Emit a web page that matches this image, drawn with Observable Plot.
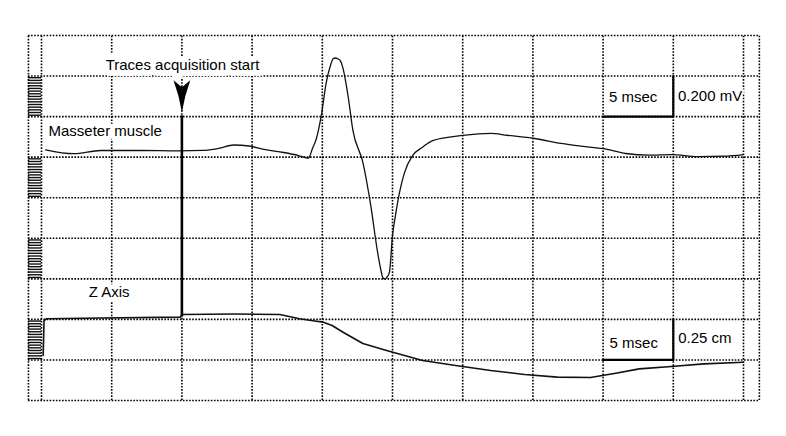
<!DOCTYPE html>
<html><head><meta charset="utf-8">
<script src="https://cdn.jsdelivr.net/npm/d3@7"></script>
<script src="https://cdn.jsdelivr.net/npm/@observablehq/plot@0.6"></script>
<style>html,body{margin:0;padding:0;background:#fff;} #chart svg{display:block;}</style>
</head><body><div id="chart"></div>
<script>
// ---- grid (5 msec per horizontal division, 9 vertical divisions) ----
const gridMs = [0, 5, 10, 15, 20, 25, 30, 35, 40, 45, 50];
const divisions = [0, 1, 2, 3, 4, 5, 6, 7, 8, 9];
const frameMs = [-0.93, 51.13];          // outer frame columns
const hatchBlocks = [1, 3, 5, 7];          // striped cells in left column

// ---- Masseter muscle EMG (time msec, amplitude mV relative to baseline) ----
const masseterMs = [0.29, 2.29, 4.21, 4.93, 7.13, 9.71, 11.52, 12.61, 13.70, 14.78, 15.85, 17.25, 18.31, 19.01, 19.30, 19.58, 19.93, 20.28, 20.56, 20.77, 20.92, 21.13, 21.27, 21.48, 21.83, 22.18, 22.89, 23.45, 23.94, 24.15, 24.30, 24.44, 24.65, 24.79, 25.00, 25.21, 25.50, 25.86, 26.43, 27.14, 27.86, 30.00, 31.99, 33.16, 35.14, 37.01, 38.61, 40.21, 41.60, 43.26, 44.86, 46.76, 48.59, 50.00];
const masseterMv = [0.036, 0.017, 0.033, 0.033, 0.033, 0.031, 0.033, 0.043, 0.060, 0.055, 0.038, 0.023, 0.008, -0.005, 0.043, 0.092, 0.206, 0.368, 0.447, 0.485, 0.489, 0.484, 0.477, 0.437, 0.304, 0.132, -0.026, -0.238, -0.470, -0.549, -0.592, -0.601, -0.588, -0.564, -0.386, -0.288, -0.174, -0.075, 0.008, 0.049, 0.082, 0.107, 0.117, 0.108, 0.092, 0.068, 0.053, 0.040, 0.018, 0.010, 0.013, 0.003, 0.005, 0.013];

// ---- Z axis displacement (time msec, cm relative to rest) ----
const zAxisMs = [0.12, 0.18, 0.36, 4.21, 9.90, 10.00, 13.70, 16.97, 18.38, 19.58, 20.07, 20.70, 21.48, 22.89, 24.58, 27.14, 29.50, 31.99, 34.41, 36.74, 39.10, 40.90, 42.57, 44.86, 47.18, 50.00];
const zAxisCm = [-0.223, -0.007, 0.004, 0.009, 0.014, 0.030, 0.033, 0.030, 0.004, -0.011, -0.017, -0.038, -0.079, -0.149, -0.192, -0.253, -0.284, -0.315, -0.340, -0.356, -0.358, -0.332, -0.305, -0.290, -0.274, -0.264];

// ---- trigger ----
const triggerMs = 10;
const triggerTopMv = 0.204;     // top of trigger line (masseter units)
const triggerBottomCm = 0.015;  // bottom of trigger line (Z units)
const arrowMv = 0.300;          // arrow head centre (masseter units)

// ---- calibration bars ----
const barMs = [40, 45, 45];
const masseterBarMv = [0.2, 0.2, 0.4];   // 0.200 mV
const zBarCm = [-0.25, -0.25, 0];        // 0.25 cm

// ---- labels ----
const titleText = ["Traces acquisition start"];
const titleMs = [4.57];
const titleMv = [0.432];
const traceLabelText = ["Masseter muscle", "Z Axis"];
const traceLabelMs = [0.50, 3.36];
const traceLabelDiv = [6.51, 2.54];
const barLabelText = ["5 msec", "0.200 mV", "5 msec", "0.25 cm"];
const barLabelMs = [40.42, 45.33, 40.46, 45.35];
const barLabelDiv = [7.35, 7.38, 1.29, 1.41];

// unit -> screen division (masseter: 0.2 mV/div around div 6; Z: 0.25 cm/div around div 2)
const mvDiv = v => 6 + v / 0.2;
const cmDiv = v => 2 + v / 0.25;

const masseter = masseterMs.map((t, i) => ({t, d: mvDiv(masseterMv[i])}));
const zAxis = zAxisMs.map((t, i) => ({t, d: cmDiv(zAxisCm[i])}));
const masseterBar = barMs.map((t, i) => ({t, d: mvDiv(masseterBarMv[i])}));
const zBar = barMs.map((t, i) => ({t, d: cmDiv(zBarCm[i])}));
const vLines = [frameMs[0], ...gridMs, frameMs[1]];
const hatch = hatchBlocks.flatMap(b => d3.range(b + 0.035, b + 1, 0.066));
const title = titleText.map((s, i) => ({s, t: titleMs[i], d: mvDiv(titleMv[i])}));
const traceLabels = traceLabelText.map((s, i) => ({s, t: traceLabelMs[i], d: traceLabelDiv[i]}));
const barLabels = barLabelText.map((s, i) => ({s, t: barLabelMs[i], d: barLabelDiv[i]}));

const arrowSymbol = {
  draw(ctx) {
    ctx.moveTo(0, 16);
    ctx.quadraticCurveTo(-2.5, 0, -8.4, -16);
    ctx.lineTo(0, -9);
    ctx.lineTo(8.4, -16);
    ctx.quadraticCurveTo(2.5, 0, 0, 16);
    ctx.closePath();
  }
};

const dotted = {stroke: "#000", strokeWidth: 1.6, strokeDasharray: "1.6 1.5"};
const font = "Liberation Sans, Arial, Helvetica, sans-serif";
const textStyle = {x: "t", y: "d", text: "s", textAnchor: "start", lineAnchor: "bottom", fontSize: 15, fill: "#000", stroke: "#fff"};

const chart = Plot.plot({
  width: 786,
  height: 436,
  margin: 0,
  style: {background: "#fff", fontFamily: font},
  x: {domain: [0, 50], range: [41, 743], axis: null},
  y: {domain: [0, 9], range: [400, 35], axis: null},
  marks: [
    Plot.ruleY(hatch, {y: d => d, x1: frameMs[0], x2: 0, stroke: "#111", strokeWidth: 1.4}),
    Plot.ruleX(vLines, {x: d => d, y1: 0, y2: 9, ...dotted}),
    Plot.ruleY(divisions, {y: d => d, x1: frameMs[0], x2: frameMs[1], ...dotted}),
    Plot.line(zAxis, {x: "t", y: "d", stroke: "#111", strokeWidth: 1.6}),
    Plot.line(masseter, {x: "t", y: "d", stroke: "#111", strokeWidth: 1.3, curve: "monotone-x"}),
    Plot.ruleX([triggerMs], {x: d => d, y1: mvDiv(triggerTopMv), y2: cmDiv(triggerBottomCm), stroke: "#000", strokeWidth: 2.6}),
    Plot.dot([triggerMs], {x: d => d, y: mvDiv(arrowMv), symbol: arrowSymbol, fill: "#000", stroke: "none"}),
    Plot.line(masseterBar, {x: "t", y: "d", stroke: "#000", strokeWidth: 2.2, strokeLinejoin: "miter"}),
    Plot.line(zBar, {x: "t", y: "d", stroke: "#000", strokeWidth: 2.2, strokeLinejoin: "miter"}),
    Plot.text(title, {...textStyle, strokeWidth: 12}),
    Plot.text(traceLabels, {...textStyle, strokeWidth: 9}),
    Plot.text(barLabels, {...textStyle, strokeWidth: 4})
  ]
});
document.getElementById("chart").appendChild(chart);
</script>
</body></html>
